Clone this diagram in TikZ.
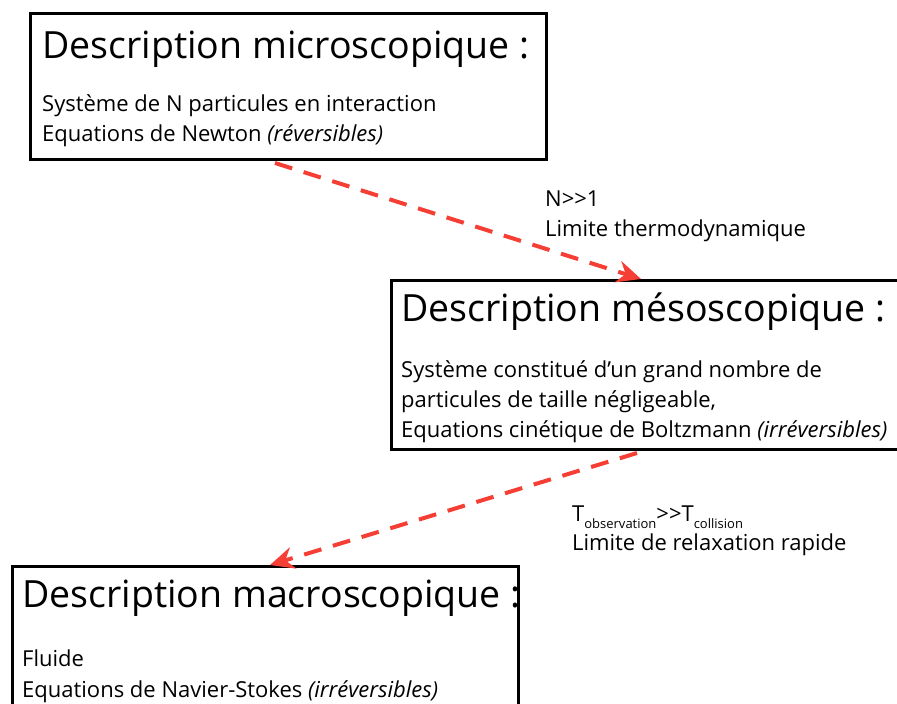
\documentclass[tikz,border=0pt]{standalone}
\usepackage{fontspec}
\setmainfont{Open Sans}
\usetikzlibrary{arrows.meta,calc}
\definecolor{arr}{RGB}{245,62,52}
\newcommand{\lowsub}[1]{\raisebox{-7pt}{\fontsize{13}{13}\selectfont #1}}
\begin{document}
\begin{tikzpicture}[x=1pt,y=-1pt,
 box/.style={draw,line width=3pt,anchor=north west,inner sep=0pt},
 ttl/.style={anchor=base west,inner sep=0pt,font=\fontsize{37.5}{45}\selectfont},
 body/.style={anchor=base west,inner sep=0pt,font=\fontsize{22}{26}\selectfont},
 link/.style={draw=arr,line width=4pt,dash pattern=on 18pt off 12pt,-{Stealth[length=24pt,width=22pt,inset=8pt]}}
]
\useasboundingbox (0,0) rectangle (897,704);
% boxes
\node[box,minimum width=516pt,minimum height=146pt] (b1) at (29,12) {};
\node[box,minimum width=530pt,minimum height=169pt] (b2) at (390,279) {};
\node[box,minimum width=506pt,minimum height=180pt] (b3) at (11,565) {};
% box 1 texts
\node[ttl] (t1) at (42,58) {Description microscopique :};
\node[body] (d1a) at (42,111) {Système de N particules en interaction};
\node[body] (d1b) at (42,141) {Equations de Newton \textit{(réversibles)}};
% box 2 texts
\node[ttl] (t2) at (401,321) {Description mésoscopique :};
\node[body] (d2a) at (401,377) {Système constitué d’un grand nombre de};
\node[body] (d2b) at (401,407) {particules de taille négligeable,};
\node[body] (d2c) at (401,437) {Equations cinétique de Boltzmann \textit{(irréversibles)}};
% box 3 texts
\node[ttl] (t3) at (22,607) {Description macroscopique :};
\node[body] (d3a) at (22,666) {Fluide};
\node[body] (d3b) at (22,697) {Equations de Navier-Stokes \textit{(irréversibles)}};
% labels
\node[body] (l1a) at (545,206) {N>{}>1};
\node[body] (l1b) at (545,236) {Limite thermodynamique};
\node[body] (l2a) at (572,521) {T\lowsub{observation}>{}>T\lowsub{collision}};
\node[body] (l2b) at (572,550) {Limite de relaxation rapide};
% connectors
\coordinate (s1) at ($(b1.south west)+(246,2)$);
\coordinate (e1) at ($(b2.north west)+(251,0)$);
\coordinate (s2) at ($(b2.south west)+(247,2)$);
\coordinate (e2) at ($(b3.north west)+(259,0)$);
\draw[link] (s1) -- (e1);
\draw[link] (s2) -- (e2);
\end{tikzpicture}
\end{document}
